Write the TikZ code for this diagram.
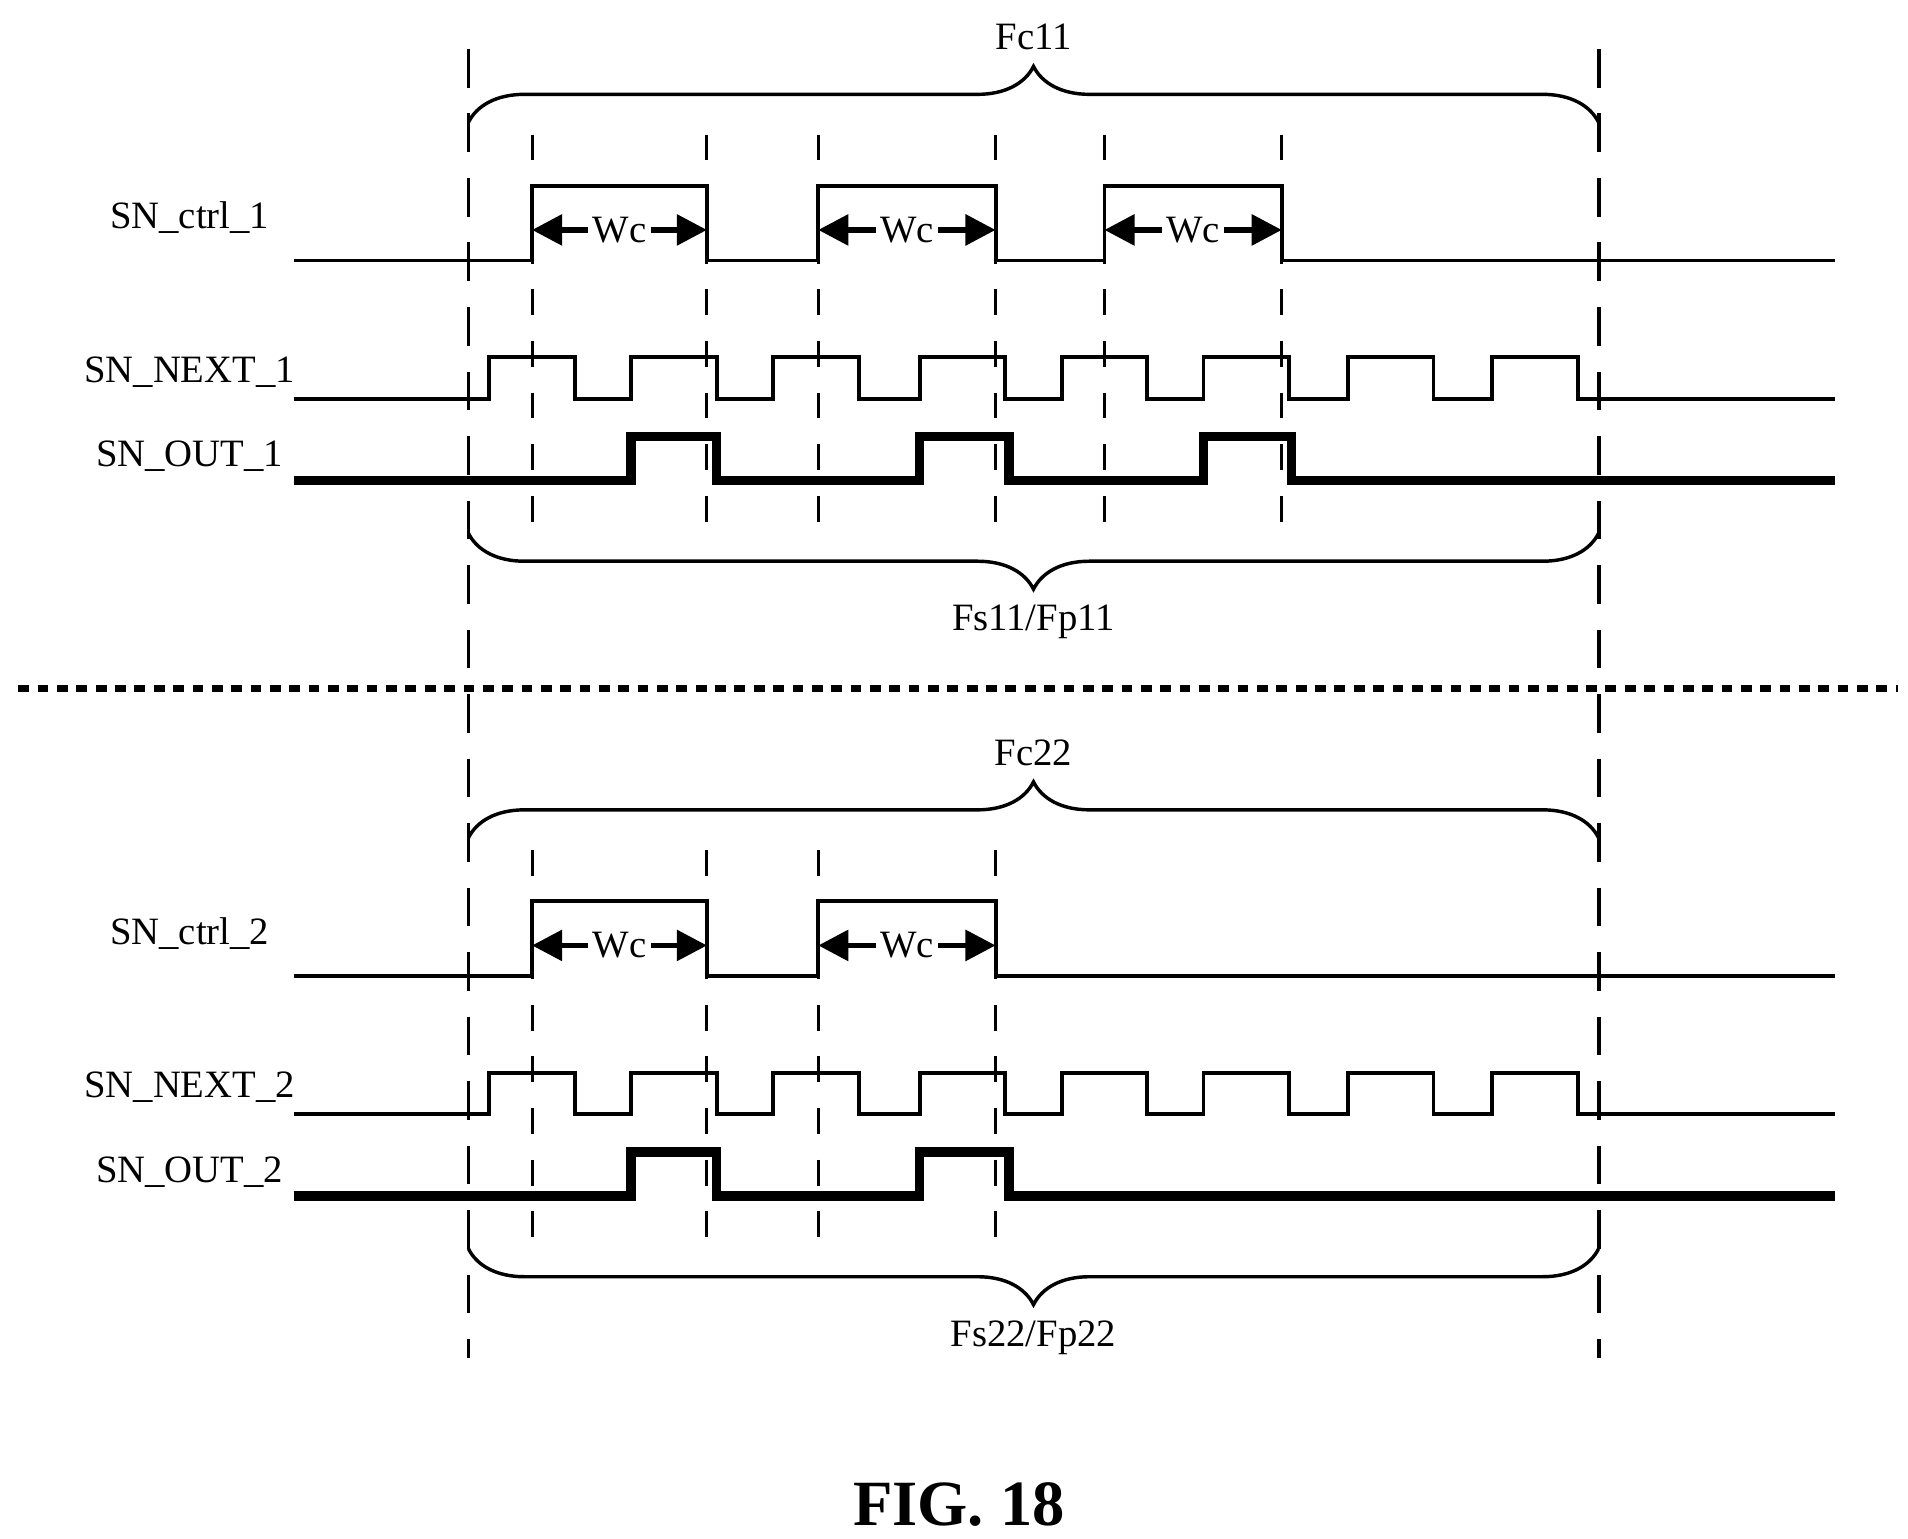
\documentclass[tikz,border=0pt]{standalone}
\usepackage{fontspec}
\setmainfont{Liberation Serif}
\usetikzlibrary{arrows.meta,decorations.pathreplacing}

\tikzset{
  sig/.style={line width=0.9pt},
  outsig/.style={line width=2.2pt},
  guide/.style={dash pattern=on 9pt off 6pt,line width=0.9pt},
  winmark/.style={dash pattern=on 6pt off 6pt,line width=0.7pt},
  lbl/.style={font=\fontsize{9}{11}\selectfont},
  brc/.style={decorate,decoration={brace,amplitude=13pt},line width=0.8pt},
  wc/.style={{Triangle[length=7pt,width=7pt]}-{Triangle[length=7pt,width=7pt]},line width=1.3pt}
}

\begin{document}
\begin{tikzpicture}[x=0.01cm,y=-0.01cm]
\useasboundingbox (0,0) rectangle (1560,1258);

% Long frame boundaries
\draw[guide] (383,40) -- (383,1110);
\draw[guide] (1307,40) -- (1307,1110);

% Separator
\draw[dash pattern=on 2.5pt off 2pt,line width=1.6pt] (15,563) -- (1552,563);

% Two blocks: offset, number of Wc windows, index
\foreach \off/\n/\k/\ca/\cb in {0/3/1/11/11, 585/2/2/22/22} {
  \begin{scope}[yshift=-\off*0.01cm]
    % Labels
    \node[lbl] (ctrl\k) at (155,178) {SN\_ctrl\_\k};
    \node[lbl] (next\k) at (155,304) {SN\_NEXT\_\k};
    \node[lbl] (out\k) at (155,373) {SN\_OUT\_\k};

    % Braces
    \draw[brc] (383,100) -- (1307,100) node[midway,above=13pt,lbl] (fc\k) {Fc\ca};
    \draw[brc] (1307,436) -- (383,436) node[midway,below=13pt,lbl] (fs\k) {Fs\cb/Fp\cb};

    % SN_ctrl
    \ifnum\n=3
      \draw[sig] (240,213) -- (435,213) -- (435,152) -- (578,152) -- (578,213)
        -- (669,213) -- (669,152) -- (814,152) -- (814,213) -- (903,213)
        -- (903,152) -- (1048,152) -- (1048,213) -- (1500,213);
    \else
      \draw[sig] (240,213) -- (435,213) -- (435,152) -- (578,152) -- (578,213)
        -- (669,213) -- (669,152) -- (814,152) -- (814,213) -- (1500,213);
    \fi

    % Window markers and Wc
    \foreach \a/\b [count=\i] in {435/578, 669/814, 903/1048} {
      \ifnum\i>\n\else
        \draw[winmark] (\a,110) -- (\a,440);
        \draw[winmark] (\b,110) -- (\b,440);
        \draw[wc] (\a,188) -- (\b,188) node[midway,fill=white,inner sep=1pt,lbl] (wc\k\i) {Wc};
      \fi
    }

    % SN_NEXT
    \draw[sig] (240,326)
      \foreach \r in {400,516,632,752,868,984,1102,1220} {
        -- (\r,326) -- (\r,292) -- (\r+70,292) -- (\r+70,326)
      } -- (1500,326);

    % SN_OUT
    \ifnum\n=3
      \draw[outsig] (240,393) -- (516,393) -- (516,357) -- (586,357) -- (586,393)
        -- (752,393) -- (752,357) -- (825,357) -- (825,393) -- (984,393)
        -- (984,357) -- (1056,357) -- (1056,393) -- (1500,393);
    \else
      \draw[outsig] (240,393) -- (516,393) -- (516,357) -- (586,357) -- (586,393)
        -- (752,393) -- (752,357) -- (825,357) -- (825,393) -- (1500,393);
    \fi
  \end{scope}
}

% Caption
\node[font=\fontsize{15}{18}\selectfont\bfseries] (fig) at (784,1230) {FIG. 18};
\end{tikzpicture}
\end{document}
